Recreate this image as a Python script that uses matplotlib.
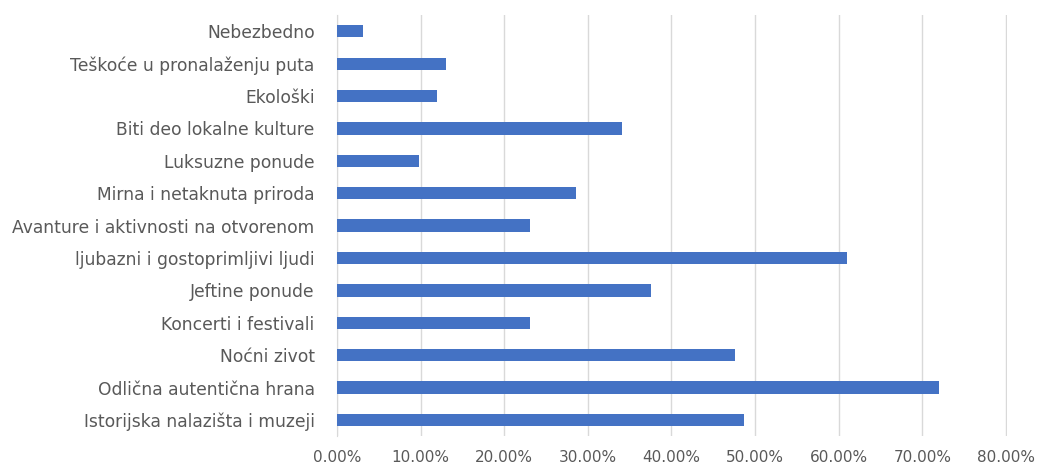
import matplotlib
matplotlib.use('Agg')
import matplotlib.pyplot as plt
from matplotlib.ticker import FuncFormatter

# Categories listed bottom to top, as drawn
categories = ['Istorijska nalazišta i muzeji', 'Odlična autentična hrana', 'Noćni zivot',
              'Koncerti i festivali', 'Jeftine ponude', 'ljubazni i gostoprimljivi ljudi',
              'Avanture i aktivnosti na otvorenom', 'Mirna i netaknuta priroda',
              'Luksuzne ponude', 'Biti deo lokalne kulture', 'Ekološki',
              'Teškoće u pronalaženju puta', 'Nebezbedno']
shares = [0.487, 0.720, 0.476, 0.231, 0.376, 0.610, 0.231, 0.286, 0.098, 0.341, 0.120, 0.131, 0.031]
x_ticks = [0, 0.1, 0.2, 0.3, 0.4, 0.5, 0.6, 0.7, 0.8]

plt.rcParams['font.family'] = ['DejaVu Sans']

fig = plt.figure(figsize=(10.4, 4.72), dpi=100)
ax = fig.add_axes([0.324, 0.076, 0.644, 0.892])

ax.barh(range(len(categories)), shares, height=0.38, color='#4472C4', zorder=3)

ax.set_xlim(0, 0.801)
ax.set_ylim(-0.5, len(categories) - 0.5)
ax.set_xticks(x_ticks)
ax.xaxis.set_major_formatter(FuncFormatter(lambda v, p: f'{v * 100:.2f}%'))
ax.set_yticks(range(len(categories)))
ax.set_yticklabels(categories)

ax.grid(axis='x', color='#d9d9d9', linewidth=1, zorder=0)
for s in ['top', 'right', 'bottom']:
    ax.spines[s].set_visible(False)
ax.spines['left'].set_color('#d9d9d9')
ax.tick_params(axis='both', length=0, colors='#595959')
ax.tick_params(axis='x', pad=10, labelsize=11)
ax.tick_params(axis='y', pad=16, labelsize=12.3)

fig.savefig('out.png', dpi=100)
